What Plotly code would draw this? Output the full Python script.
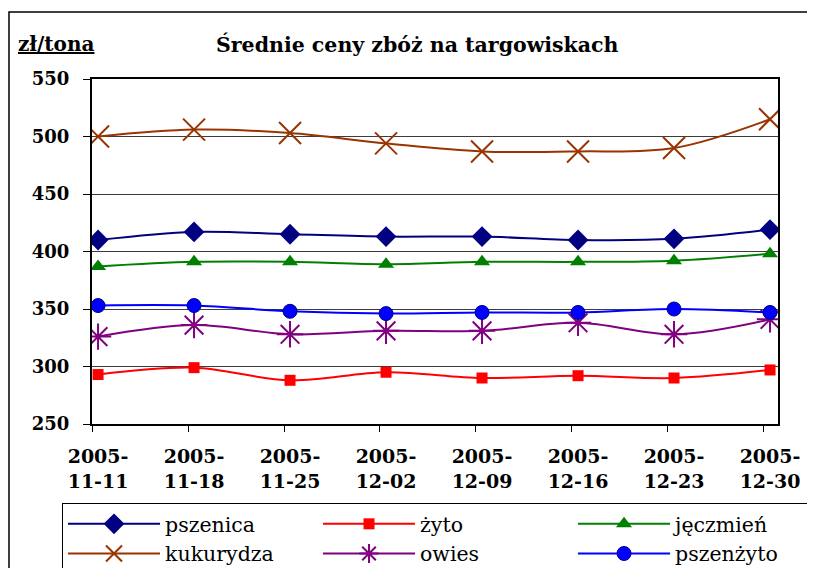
import plotly.graph_objects as go

dates = ["2005-<br>11-11", "2005-<br>11-18", "2005-<br>11-25", "2005-<br>12-02",
         "2005-<br>12-09", "2005-<br>12-16", "2005-<br>12-23", "2005-<br>12-30"]
pszenica = [410, 417, 415, 413, 413, 410, 411, 419]
zyto = [293, 299, 288, 295, 290, 292, 290, 297]
jeczmien = [387, 391, 391, 389, 391, 391, 392, 398]
kukurydza = [500, 506, 503, 494, 487, 487, 490, 515]
owies = [326, 336, 328, 331, 331, 338, 328, 341]
pszenzyto = [353, 353, 348, 346, 347, 347, 350, 347]

y_ticks = [250, 300, 350, 400, 450, 500, 550]

SERIF = "DejaVu Serif"
xs = list(range(len(dates)))

series = [
    ("pszenica", pszenica, "#000080", dict(symbol="diamond", size=16, color="#000080")),
    ("żyto", zyto, "#FF0000", dict(symbol="square", size=11, color="#FF0000")),
    ("jęczmień", jeczmien, "#008000", dict(symbol="triangle-up", size=14, color="#008000")),
    ("kukurydza", kukurydza, "#993300", dict(symbol="x-thin-open", size=22, color="#993300",
                                             line=dict(color="#993300", width=2))),
    ("owies", owies, "#800080", dict(symbol="asterisk-open", size=22, color="#800080",
                                     line=dict(color="#800080", width=2))),
    ("pszenżyto", pszenzyto, "#0000FF", dict(symbol="circle", size=14, color="#0000FF",
                                              line=dict(color="#000080", width=1))),
]

fig = go.Figure()
for name, vals, col, mk in series:
    fig.add_trace(go.Scatter(
        x=xs, y=vals, name=name, mode="lines+markers",
        line=dict(color=col, width=2, shape="spline", smoothing=1),
        marker=mk,
    ))

fig.update_layout(
    width=807, height=560,
    margin=dict(l=84, r=37, t=71, b=144, autoexpand=False),
    paper_bgcolor="white", plot_bgcolor="white",
    font=dict(family=SERIF, color="black"),
    showlegend=True,
    legend=dict(
        orientation="h", x=-0.0437, y=-0.229, xanchor="left", yanchor="top",
        entrywidth=148, entrywidthmode="pixels", itemwidth=92,
        font=dict(family=SERIF, size=20.5, color="black"),
        bordercolor="black", borderwidth=1, bgcolor="white",
        tracegroupgap=0,
    ),
)

fig.update_xaxes(
    range=[-0.063, 7.083], automargin=False,
    tickmode="array", tickvals=xs, ticktext=dates,
    ticks="", showgrid=False, zeroline=False,
    tickfont=dict(family=SERIF, size=19, color="black", weight="bold"),
    showline=True, linecolor="black", linewidth=2, mirror=True,
    ticklabelstandoff=14,
    minor=dict(tickvals=[i - 0.063 for i in xs], ticks="outside", ticklen=6,
               tickcolor="black", tickwidth=1, showgrid=False),
)
fig.update_yaxes(
    range=[250, 550], automargin=False, tickmode="array", tickvals=y_ticks,
    ticks="outside", ticklen=7, tickcolor="black",
    showgrid=True, gridcolor="#3c3c3c", gridwidth=1, zeroline=False,
    tickfont=dict(family=SERIF, size=18, color="black", weight="bold"),
    showline=True, linecolor="black", linewidth=2, mirror=True,
    ticklabelstandoff=10,
)

fig.add_annotation(text="<b>Średnie ceny zbóż na targowiskach</b>", xref="paper", yref="paper",
                   x=0.475, y=1.0986, xanchor="center", yanchor="middle", showarrow=False,
                   font=dict(family=SERIF, size=20.5, color="black"))
fig.add_annotation(text="<b><u>zł/tona</u></b>", xref="paper", yref="paper",
                   x=-0.1108, y=1.1, xanchor="left", yanchor="middle", showarrow=False,
                   font=dict(family=SERIF, size=20, color="black"))

fig.add_shape(type="rect", xref="paper", yref="paper",
              x0=-0.121, x1=1.07, y0=-0.45, y1=1.194,
              line=dict(color="black", width=1.5), fillcolor="rgba(0,0,0,0)", layer="below")

fig.write_html("out.html")
